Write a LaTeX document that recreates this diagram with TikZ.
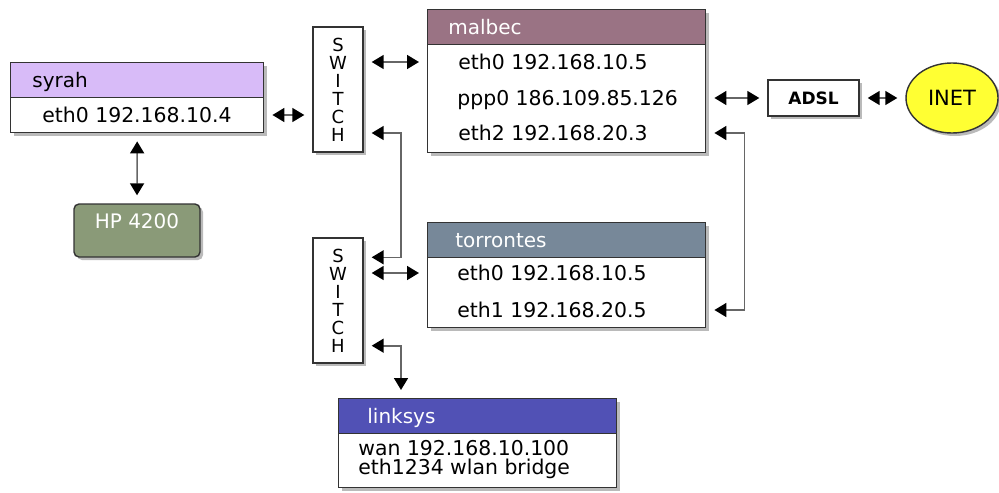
\documentclass[tikz,border=0pt]{standalone}
\usepackage{fontspec}
\setmainfont{DejaVu Sans}
\usetikzlibrary{positioning,shadows,shapes.geometric,arrows.meta}
\definecolor{syrahcol}{HTML}{D8BBF8}
\definecolor{malbeccol}{HTML}{9A7384}
\definecolor{torrcol}{HTML}{778899}
\definecolor{linkcol}{HTML}{5151B5}
\definecolor{hpcol}{HTML}{8A9A78}
\definecolor{inetcol}{HTML}{FFFF33}

\begin{document}
\begin{tikzpicture}[x=0.5pt,y=-0.5pt,
        BoxCfg/.style={
            draw=black!80, line width=0.7pt, fill=white, inner sep=0pt,
            drop shadow={shadow xshift=1.5pt, shadow yshift=-1.5pt, fill=black!45, opacity=0.6}
        },
        HeadCfg/.style={draw=black!80, line width=0.7pt, inner sep=0pt, minimum height=17.5pt, anchor=north west},
        TitleCfg/.style={font=\fontsize{10}{12}\selectfont, inner sep=0pt, text height=8pt, text depth=1pt},
        RowCfg/.style={font=\fontsize{10.2}{12}\selectfont, inner sep=0pt, anchor=west, text height=8pt, text depth=1pt},
        SwitchCfg/.style={BoxCfg, minimum width=25pt, minimum height=62.5pt, align=center, font=\fontsize{9}{9}\selectfont},
        LinkCfg/.style={
            draw=black!60, line width=0.8pt,
            {Triangle[length=6pt,width=7pt,black]}-{Triangle[length=6pt,width=7pt,black]},
            shorten <=4pt, shorten >=4pt
        }
    ]
    \useasboundingbox (0,0) rectangle (999,492);

    %syrah
    \node[BoxCfg, minimum width=126.5pt, minimum height=35pt, anchor=north west] (syrah) at (10,62) {};
    \node[HeadCfg, fill=syrahcol, minimum width=126.5pt] (syrahH) at (syrah.north west) {};
    \node[TitleCfg, right=11pt of syrahH.west] (syrahT) {syrah};
    \node[RowCfg, anchor=center] (syrah0) at (137,115) {eth0 192.168.10.4};

    %HP printer
    \node[BoxCfg, fill=hpcol, rounded corners=2.5pt, minimum width=63pt, minimum height=26.5pt] (hp) at (137,230.5) {};
    \node[TitleCfg, text=white] (hpT) at (137,221) {HP 4200};

    %switches
    \node[SwitchCfg] (sw1) at (338,89.5) {S\\W\\I\\T\\C\\H};
    \node[SwitchCfg] (sw2) at (338,300.5) {S\\W\\I\\T\\C\\H};

    %malbec
    \node[BoxCfg, minimum width=139pt, minimum height=71.5pt, anchor=north west] (malbec) at (427,9) {};
    \node[HeadCfg, fill=malbeccol, minimum width=139pt] (malbecH) at (malbec.north west) {};
    \node[TitleCfg, text=white, right=10.5pt of malbecH.west] (malbecT) {malbec};
    \node[RowCfg] (malbec0) at (458,62) {eth0 192.168.10.5};
    \node[RowCfg] (malbec1) at (457,98) {ppp0 186.109.85.126};
    \node[RowCfg] (malbec2) at (458,133) {eth2 192.168.20.3};

    %torrontes
    \node[BoxCfg, minimum width=139pt, minimum height=52.5pt, anchor=north west] (torrontes) at (427,222) {};
    \node[HeadCfg, fill=torrcol, minimum width=139pt] (torrontesH) at (torrontes.north west) {};
    \node[TitleCfg, text=white, right=14pt of torrontesH.west] (torrontesT) {torrontes};
    \node[RowCfg] (torr0) at (457,273) {eth0 192.168.10.5};
    \node[RowCfg] (torr1) at (457,310) {eth1 192.168.20.5};

    %linksys
    \node[BoxCfg, minimum width=139pt, minimum height=44.5pt, anchor=north west] (linksys) at (338,398) {};
    \node[HeadCfg, fill=linkcol, minimum width=139pt] (linksysH) at (linksys.north west) {};
    \node[TitleCfg, text=white, right=14.5pt of linksysH.west] (linksysT) {linksys};
    \node[font=\fontsize{10.2}{9.5}\selectfont, align=left, inner sep=0pt, anchor=west] (linksys0) at (358,460) {wan 192.168.10.100\\eth1234 wlan bridge};

    %ADSL and INET
    \node[BoxCfg, minimum width=45.5pt, minimum height=18pt, font=\bfseries\fontsize{8.5}{10}\selectfont] (adsl) at (813.5,98) {ADSL};
    \node[BoxCfg, ellipse, fill=inetcol, minimum width=46pt, minimum height=35pt, font=\fontsize{10.5}{12}\selectfont] (inet) at (952,98) {INET};

    %connections
    \draw[LinkCfg] (syrah.east |- syrah0) -- (sw1.west |- syrah0);
    \draw[LinkCfg] (syrah.south) -- (hp.north);
    \draw[LinkCfg] (sw1.east |- malbec0) -- (malbec.west |- malbec0);
    \draw[LinkCfg] (sw1.east |- malbec2) -- ++(18.5pt,0pt) |- ([yshift=-10pt]sw2.north east);
    \draw[LinkCfg] (sw2.east |- torr0) -- (torrontes.west |- torr0);
    \draw[LinkCfg] ([yshift=9pt]sw2.south east) -| ([xshift=31.5pt]linksys.north west);
    \draw[LinkCfg] (malbec.east |- malbec1) -- (adsl.west);
    \draw[LinkCfg] (adsl.east) -- (inet.west);
    \draw[LinkCfg] (malbec.east |- malbec2) -- ++(19pt,0pt) |- (torrontes.east |- torr1);

\end{tikzpicture}
\end{document}
